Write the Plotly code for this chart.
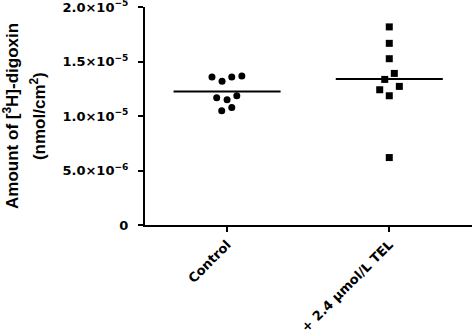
import plotly.graph_objects as go
import numpy as np

categories = ["Control", "+ 2.4 µmol/L TEL"]
control_values = [1.358e-5, 1.318e-5, 1.358e-5, 1.367e-5, 1.168e-5, 1.149e-5, 1.186e-5, 1.048e-5, 1.079e-5]
tel_values = [1.818e-5, 1.667e-5, 1.526e-5, 1.391e-5, 1.336e-5, 1.272e-5, 1.241e-5, 1.186e-5, 6.19e-6]
y_tick_vals = [0, 5e-6, 1e-5, 1.5e-5, 2e-5]
y_tick_text = ["0", "5.0×10<sup>−6</sup>", "1.0×10<sup>−5</sup>", "1.5×10<sup>−5</sup>", "2.0×10<sup>−5</sup>"]
y_title_lines = ["Amount of [<sup>3</sup>H]-digoxin", "(nmol/cm<sup>2</sup>)"]

# horizontal scatter offsets (layout only)
control_jitter = [-0.093, -0.031, 0.029, 0.091, -0.064, 0.0, 0.06, -0.033, 0.029]
tel_jitter = [0.0, 0.0, 0.0, 0.031, -0.028, 0.062, -0.059, 0.0, 0.0]

FONT = "DejaVu Sans"
TFONT = "Liberation Sans"
fig = go.Figure()

groups = [(control_values, control_jitter, "circle"), (tel_values, tel_jitter, "square")]
for i, (vals, jit, sym) in enumerate(groups):
    fig.add_trace(go.Scatter(
        x=[i + j for j in jit], y=vals, mode="markers",
        marker=dict(symbol=sym, size=7, color="black"),
        showlegend=False, hoverinfo="y", cliponaxis=False))
    m = float(np.mean(vals))
    fig.add_trace(go.Scatter(
        x=[i - 0.33, i + 0.33], y=[m, m], mode="lines",
        line=dict(color="black", width=2), showlegend=False, hoverinfo="skip"))

for txt, xp in zip(y_title_lines, [-0.41, -0.327]):
    fig.add_annotation(
        text=txt, xref="paper", yref="paper", x=xp, y=0.5,
        xanchor="center", yanchor="middle", textangle=-90, showarrow=False,
        font=dict(family=TFONT, size=17, color="black", weight="bold"))

fig.update_layout(
    width=472, height=336,
    margin=dict(l=145, r=0, t=7, b=111, autoexpand=False),
    plot_bgcolor="white", paper_bgcolor="white",
    font=dict(family=FONT, color="black"),
    xaxis=dict(
        range=[-0.506, 1.51], tickvals=[0, 1], ticktext=categories,
        tickangle=-45, ticks="outside", ticklen=5, tickwidth=2, tickcolor="black",
        showline=True, linecolor="black", linewidth=2, showgrid=False, zeroline=False,
        automargin=False,
        tickfont=dict(family=FONT, size=13, color="black", weight="bold"),
    ),
    yaxis=dict(
        range=[0, 2.0005e-5], tickvals=y_tick_vals, ticktext=y_tick_text,
        ticks="outside", ticklen=5, tickwidth=2, tickcolor="black",
        showline=True, linecolor="black", linewidth=2, showgrid=False, zeroline=False,
        automargin=False, ticklabeloverflow="allow", ticklabelstandoff=7,
        tickfont=dict(family=FONT, size=13, color="black", weight="bold"),
    ),
)

fig.write_html("out.html", config={"displayModeBar": False},
               post_script="document.body.style.margin='0';")
